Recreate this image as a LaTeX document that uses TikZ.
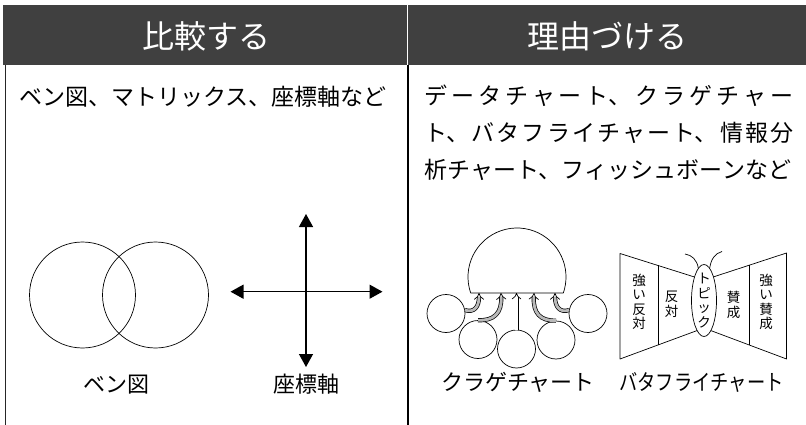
\documentclass[tikz,border=0pt]{standalone}
\usepackage{fontspec}
\setmainfont{Noto Sans CJK JP}
\usepackage{graphicx}
\usetikzlibrary{arrows.meta}
\usetikzlibrary{shapes.geometric}
\usetikzlibrary{calc}
\definecolor{headgray}{RGB}{64,64,64}
\XeTeXlinebreaklocale "ja"
\XeTeXlinebreakskip=0pt plus 4pt
\tikzset{hd/.style={text=white,font=\fontsize{32}{32}\selectfont}}
\tikzset{tx/.style={font=\fontsize{23}{36.7}\selectfont,inner sep=0}}
\tikzset{lb/.style={font=\fontsize{22}{22}\selectfont,inner sep=0}}
\tikzset{vt/.style={font=\fontsize{13.5}{14.5}\selectfont,align=center,inner sep=0}}
\tikzset{venn/.style={draw,circle,minimum size=106pt,inner sep=0,line width=0.7pt}}
\tikzset{ball/.style={draw,circle,minimum size=38pt,inner sep=0,line width=0.7pt}}
\tikzset{tent/.style={line width=0.7pt,double=gray!55,double distance=2.8pt,-{Implies}}}
\tikzset{axarrow/.style={line width=1.3pt,{Triangle[length=13pt,width=14pt]}-{Triangle[length=13pt,width=14pt]}}}

\begin{document}
\begin{tikzpicture}[x=1pt,y=-1pt,line join=round]
  \useasboundingbox (0,0) rectangle (806,425);
  % header
  \fill[headgray] (3,5) rectangle (806,65);
  \draw[white,line width=1.5pt] (407.5,5) -- (407.5,65);
  \node[hd] (hdCmp) at (206,36) {比較する};
  \node[hd] (hdWhy) at (607,36) {理由づける};
  \draw[line width=1.5pt,black!85] (5.5,65) -- (5.5,425);
  \draw[line width=1.5pt] (408,65) -- (408,425);
  \node[tx] (txCmp) at (203,96.7) {ベン図、マトリックス、座標軸など};
  \node[tx,anchor=north west,text width=369pt,align=justify] (txWhy) at (424,85)
    {データチャート、クラゲチャー\linebreak ト、バタフライチャート、情報分\linebreak 析チャート、フィッシュボーンなど};
  % venn
  \node[venn] (vennL) at (82.5,295) {};
  \node[venn] (vennR) at (155.5,295) {};
  \node[lb] (lbVenn) at (116.5,384.5) {ベン図};
  % axes
  \coordinate (axT) at (306,214);
  \coordinate (axB) at (306,367);
  \coordinate (axL) at (230.5,291.7);
  \coordinate (axR) at (382.5,291.7);
  \draw[axarrow] (axB) -- (axT);
  \draw[axarrow] (axL) -- (axR);
  \node[lb] (lbAxis) at (306.5,384.5) {座標軸};
  % jellyfish
  \draw[line width=0.7pt] (517,277) ++(160.94:49) arc[start angle=160.94,end angle=379.06,radius=49] -- cycle;
  \coordinate (dm1) at (479,293);
  \coordinate (dm2) at (501,293);
  \coordinate (dm3) at (516.5,293);
  \coordinate (dm4) at (534,293);
  \coordinate (dm5) at (555,293);
  \node[ball] (jb1) at (446,313.5) {};
  \node[ball] (jb2) at (478,339.5) {};
  \node[ball] (jb3) at (516.5,349) {};
  \node[ball] (jb4) at (556,340) {};
  \node[ball] (jb5) at (588,313.5) {};
  \draw[tent] (jb1.10) .. controls (474,313) and (479,307) .. (dm1);
  \draw[tent] (jb2.north) .. controls (494,321) and (502,313) .. (dm2);
  \draw[line width=0.7pt,double=white,double distance=2.6pt,-{Implies}] (jb3.north) -- (dm3);
  \draw[tent] (jb4.north) .. controls (540,321) and (533,313) .. (dm4);
  \draw[tent] (jb5.170) .. controls (560,313) and (555,307) .. (dm5);
  \node[lb] (lbJelly) at (518,382.5) {クラゲチャート};
  % butterfly
  \coordinate (bfLT) at (620,253.5);
  \coordinate (bfLB) at (620,359);
  \coordinate (bfRT) at (786.5,253);
  \coordinate (bfRB) at (786.5,359);
  \coordinate (bfCT) at (704,280);
  \coordinate (bfCB) at (704,328);
  \draw[line width=0.7pt] (bfLT) -- (bfCT) -- (bfRT) -- (bfRB) -- (bfCB) -- (bfLB) -- cycle;
  \draw[line width=0.7pt] ($(bfLT)!0.452!(bfCT)$) -- ($(bfLB)!0.452!(bfCB)$);
  \draw[line width=0.7pt] ($(bfRT)!0.45!(bfCT)$) -- ($(bfRB)!0.45!(bfCB)$);
  \node[draw,ellipse,fill=white,line width=0.7pt,minimum width=25pt,minimum height=72pt,inner sep=0] (topic) at (704,300.5) {};
  \coordinate (antL) at (685,254);
  \coordinate (antR) at (722,251.5);
  \draw[line width=0.7pt] (topic.100) .. controls (697,260) and (692,255) .. (antL);
  \draw[line width=0.7pt] (topic.80) .. controls (711,259) and (715,253.5) .. (antR);
  \node[vt] (tpTx) at (topic) {ト\\ピ\\ッ\\ク};
  \node[vt] (strongNo) at (639,301.7) {強\\い\\反\\対};
  \node[vt] (no) at (671.5,304.2) {反\\対};
  \node[vt] (yes) at (733.5,305) {賛\\成};
  \node[vt] (strongYes) at (766,301.7) {強\\い\\賛\\成};
  \node[lb] (lbFly) at (701.5,382.5) {\scalebox{0.83}[1]{バタフライチャート}};
\end{tikzpicture}
\end{document}
